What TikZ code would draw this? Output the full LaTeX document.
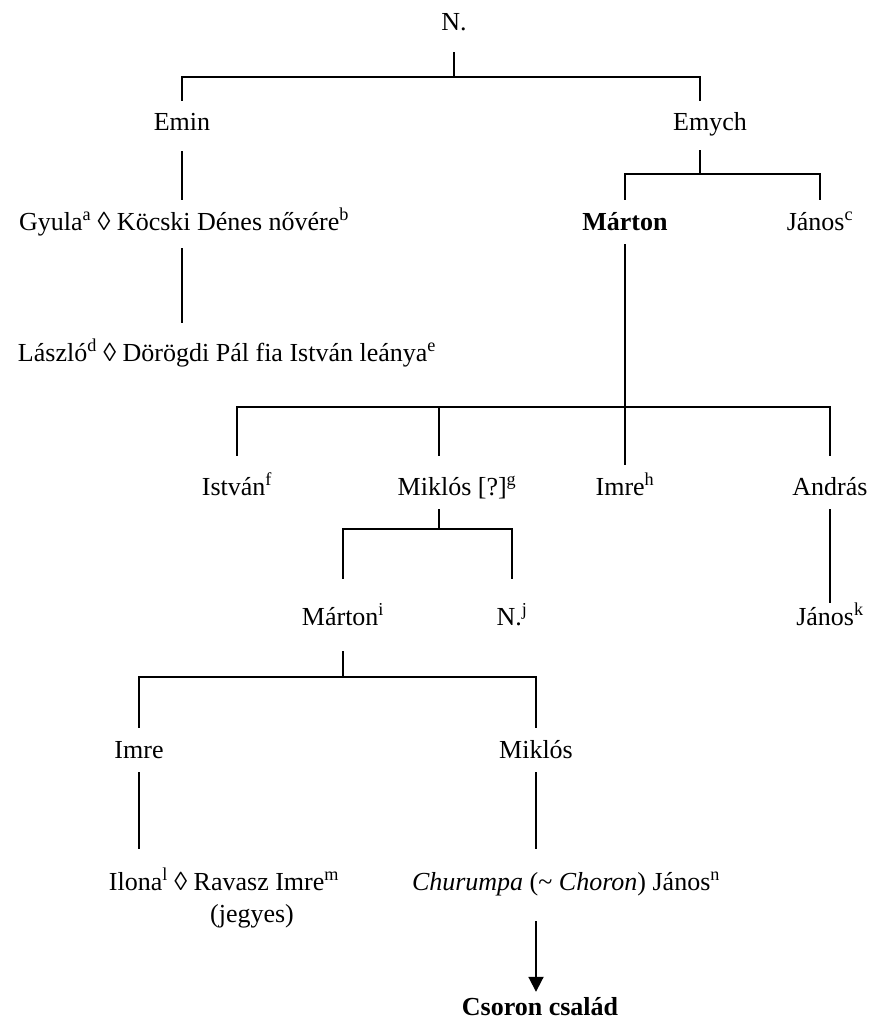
\documentclass[tikz,border=0pt]{standalone}
\usepackage{fontspec}
\setmainfont{Liberation Serif}
\usetikzlibrary{arrows.meta}

\begin{document}
\begin{tikzpicture}[x=1pt, y=-1pt]
    \useasboundingbox (0,0) rectangle (868,1022);
    \begin{scope}
        \tikzstyle{every node}=[inner sep=0pt, minimum height=44pt, text height=20pt, text depth=4pt, font=\fontsize{26}{31}\selectfont]
        \node (n0) at (454,23) {N.};
        \node (emin) at (182,123) {Emin};
        \node (emych) at (710,123) {Emych};
        \node (gyula) at (184,222) {Gyula\textsuperscript{a} ◊ Köcski Dénes nővére\textsuperscript{b}};
        \node (marton) at (625,222) {\textbf{Márton}};
        \node (janosc) at (820,222) {János\textsuperscript{c}};
        \node (laszlo) at (227,353) {László\textsuperscript{d} ◊ Dörögdi Pál fia István leánya\textsuperscript{e}};
        \node (istvan) at (237,487) {István\textsuperscript{f}};
        \node (miklosq) at (457,487) {Miklós [?]\textsuperscript{g}};
        \node (imreh) at (625,487) {Imre\textsuperscript{h}};
        \node (andras) at (830,487) {András};
        \node (martoni) at (343,617) {Márton\textsuperscript{i}};
        \node (nj) at (512,617) {N.\textsuperscript{j}};
        \node (janosk) at (830,617) {János\textsuperscript{k}};
        \node (imre) at (139,750) {Imre};
        \node (miklos) at (536,750) {Miklós};
        \node (ilona) at (224,882) {Ilona\textsuperscript{l} ◊ Ravasz Imre\textsuperscript{m}};
        \node (jegyes) at (252,914) {(jegyes)};
        \node (churumpa) at (566,882) {\textit{Churumpa} (\textasciitilde{} \textit{Choron}) János\textsuperscript{n}};
        \node (csoron) at (540,1007) {\textbf{Csoron család}};
    \end{scope}
    \coordinate (j0) at (454,77);
    \coordinate (j1) at (700,174);
    \coordinate (j2) at (625,407);
    \coordinate (j3) at (439,529);
    \coordinate (j4) at (343,677);
    \begin{scope}[line width=1.9pt]
        \draw[shorten <=7pt] (n0) -- (j0);
        \draw (emin.north) |- (j0) -| (j1 |- emych.north);
        \draw[shorten <=6pt] (emin) -- (emin |- gyula.north);
        \draw[shorten <=4pt, shorten >=8pt] (emin |- gyula.south) -- (emin |- laszlo.north);
        \draw[shorten <=5pt] (j1 |- emych.south) -- (j1);
        \draw (marton.north) |- (j1) -| (janosc.north);
        \draw (marton) -- (imreh);
        \draw[shorten <=9pt, shorten >=9pt] (istvan.north) |- (j2) -| (andras.north);
        \draw[shorten >=9pt] (j3 |- j2) -- (j3 |- miklosq.north);
        \draw (j3 |- miklosq.south) -- (j3);
        \draw[shorten <=16pt, shorten >=16pt] (martoni.north) |- (j3) -| (nj.north);
        \draw[shorten >=-8pt] (andras) -- (janosk);
        \draw[shorten <=12pt] (martoni) -- (j4);
        \draw (imre.north) |- (j4) -| (miklos.north);
        \draw[shorten >=11pt] (imre) -- (imre |- ilona.north);
        \draw[shorten >=11pt] (miklos) -- (miklos |- churumpa.north);
        \draw[-{Triangle[length=15pt, width=15pt]}, shorten <=17pt, shorten >=-7pt] (miklos |- churumpa.south) -- (miklos |- csoron.north);
    \end{scope}
\end{tikzpicture}
\end{document}
